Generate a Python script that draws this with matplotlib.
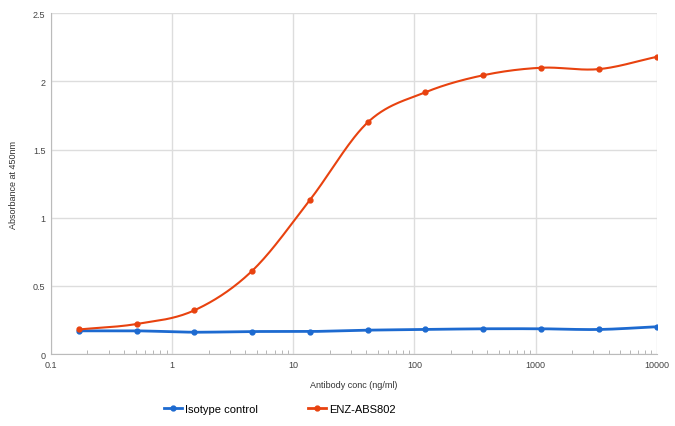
import matplotlib
matplotlib.use('Agg')
import matplotlib.pyplot as plt
from matplotlib.ticker import FixedLocator, LogLocator, NullFormatter
import numpy as np

plt.rcParams['font.family'] = ['Liberation Sans', 'DejaVu Sans']

conc = [0.169, 0.508, 1.52, 4.57, 13.7, 41.2, 123, 370, 1111, 3333, 10000]
isotype = [0.17, 0.17, 0.16, 0.165, 0.165, 0.175, 0.18, 0.185, 0.185, 0.18, 0.2]
enz = [0.18, 0.22, 0.32, 0.61, 1.13, 1.70, 1.92, 2.045, 2.10, 2.09, 2.18]
xticks = [0.1, 1, 10, 100, 1000, 10000]
xtick_labels = ['0.1', '1', '10', '100', '1000', '10000']
yticks = [0, 0.5, 1, 1.5, 2, 2.5]
ytick_labels = ['0', '0.5', '1', '1.5', '2', '2.5']

blue = '#1d6ad0'
red = '#e8420f'


def smooth(x, y, n=30):
    # catmull-rom through the points, in log-x space (only for drawing the line)
    lx = np.log10(x)
    y = np.asarray(y, dtype=float)
    px = np.concatenate([[2 * lx[0] - lx[1]], lx, [2 * lx[-1] - lx[-2]]])
    py = np.concatenate([[2 * y[0] - y[1]], y, [2 * y[-1] - y[-2]]])
    xs, ys = [], []
    t = np.linspace(0, 1, n, endpoint=False)
    for i in range(1, len(px) - 2):
        for arr, out in ((px, xs), (py, ys)):
            p0, p1, p2, p3 = arr[i - 1], arr[i], arr[i + 1], arr[i + 2]
            out.extend(0.5 * (2 * p1 + (-p0 + p2) * t + (2 * p0 - 5 * p1 + 4 * p2 - p3) * t ** 2
                              + (-p0 + 3 * p1 - 3 * p2 + p3) * t ** 3))
    xs.append(lx[-1])
    ys.append(y[-1])
    return 10 ** np.array(xs), np.array(ys)


fig = plt.figure(figsize=(6.75, 4.27), dpi=100)
ax = fig.add_axes([0.0756, 0.1686, 0.8974, 0.7981])

sx, sy = smooth(conc, isotype)
ax.plot(sx, sy, color=blue, lw=2, zorder=3)
ax.plot(conc, isotype, 'o', color=blue, ms=3.5, zorder=4)
sx, sy = smooth(conc, enz)
ax.plot(sx, sy, color=red, lw=1.5, zorder=3)
ax.plot(conc, enz, 'o', color=red, ms=3.5, zorder=4)

ax.set_xscale('log')
ax.set_xlim(0.1, 10000)
ax.set_ylim(0, 2.5)
ax.xaxis.set_major_locator(FixedLocator(xticks))
ax.set_xticklabels(xtick_labels)
ax.xaxis.set_minor_locator(LogLocator(base=10, subs=np.arange(2, 10)))
ax.xaxis.set_minor_formatter(NullFormatter())
ax.set_yticks(yticks)
ax.set_yticklabels(ytick_labels)
ax.tick_params(axis='both', labelsize=6.5, colors='#444444', length=0, pad=4)
ax.tick_params(axis='x', which='minor', direction='in', length=3, color='#aaaaaa')
ax.grid(True, which='major', color='#dddddd', lw=1)
for s in ['top', 'right']:
    ax.spines[s].set_visible(False)
for s in ['left', 'bottom']:
    ax.spines[s].set_color('#bbbbbb')

ax.set_xlabel('Antibody conc (ng/ml)', fontsize=6.5, color='#333333', labelpad=8)
ax.set_ylabel('Absorbance at 450nm', fontsize=6.5, color='#333333', labelpad=11)

h1, = ax.plot([], [], '-o', color=blue, ms=3.5, lw=2)
h2, = ax.plot([], [], '-o', color=red, ms=3.5, lw=2)
fig.legend([h1, h2], ['Isotype control', 'ENZ-ABS802'], loc='center', bbox_to_anchor=(0.415, 0.04),
           ncol=2, frameon=False, fontsize=8, columnspacing=4.5, handlelength=1.6, handletextpad=0.3)

fig.savefig('out.png', dpi=100, facecolor='white')
